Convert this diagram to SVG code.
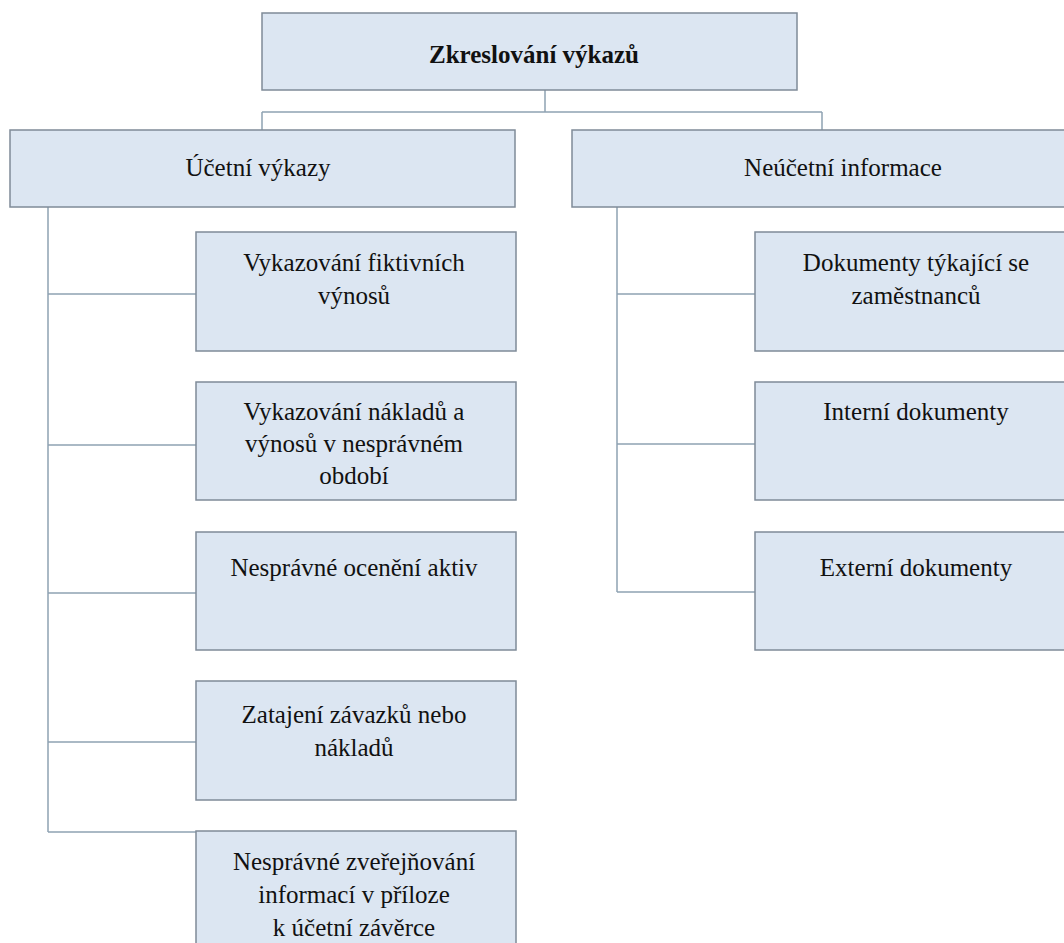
<svg xmlns="http://www.w3.org/2000/svg" width="1064" height="943" viewBox="0 0 1064 943">
<style>
.box{fill:#dce6f2;stroke:#7f8b98;stroke-width:1.5}
.c{fill:none;stroke:#8fa2b3;stroke-width:1.5}
.t{font-family:'Liberation Serif','Times New Roman','DejaVu Serif',serif;font-size:25px;fill:#111;text-anchor:middle}
.b{font-weight:bold}
</style>
<rect width="1064" height="943" fill="#ffffff"/>
<g id="connectors">
<path class="c" d="M545 90V112M262 112H822M262 112V130M822 112V130"/>
<path class="c" d="M48 207V832M48 294H196M48 445H196M48 593H196M48 742H196M48 832H196"/>
<path class="c" d="M617 207V592M617 294H755M617 444H755M617 592H755"/>
</g>
<g id="root"><rect class="box" x="262" y="13" width="535" height="77"/><text class="t b" x="534" y="63">Zkreslování výkazů</text></g>
<g id="ucetni"><rect class="box" x="10" y="130" width="505" height="77"/><text class="t" x="258" y="176">Účetní výkazy</text></g>
<g id="neucetni"><rect class="box" x="572" y="130" width="500" height="77"/><text class="t" x="843" y="176">Neúčetní informace</text></g>
<g id="l1"><rect class="box" x="196" y="232" width="320" height="119"/><text class="t" x="354" y="271">Vykazování fiktivních</text><text class="t" x="354" y="304">výnosů</text></g>
<g id="l2"><rect class="box" x="196" y="382" width="320" height="118"/><text class="t" x="354" y="420">Vykazování nákladů a</text><text class="t" x="354" y="452">výnosů v nesprávném</text><text class="t" x="354" y="484">období</text></g>
<g id="l3"><rect class="box" x="196" y="532" width="320" height="118"/><text class="t" x="354" y="576">Nesprávné ocenění aktiv</text></g>
<g id="l4"><rect class="box" x="196" y="681" width="320" height="119"/><text class="t" x="354" y="723">Zatajení závazků nebo</text><text class="t" x="354" y="756">nákladů</text></g>
<g id="l5"><rect class="box" x="196" y="831" width="320" height="130"/><text class="t" x="354" y="870">Nesprávné zveřejňování</text><text class="t" x="354" y="903">informací v příloze</text><text class="t" x="354" y="936">k účetní závěrce</text></g>
<g id="r1"><rect class="box" x="755" y="232" width="320" height="119"/><text class="t" x="916" y="271">Dokumenty týkající se</text><text class="t" x="916" y="304">zaměstnanců</text></g>
<g id="r2"><rect class="box" x="755" y="382" width="320" height="118"/><text class="t" x="916" y="420">Interní dokumenty</text></g>
<g id="r3"><rect class="box" x="755" y="532" width="320" height="118"/><text class="t" x="916" y="576">Externí dokumenty</text></g>
</svg>
